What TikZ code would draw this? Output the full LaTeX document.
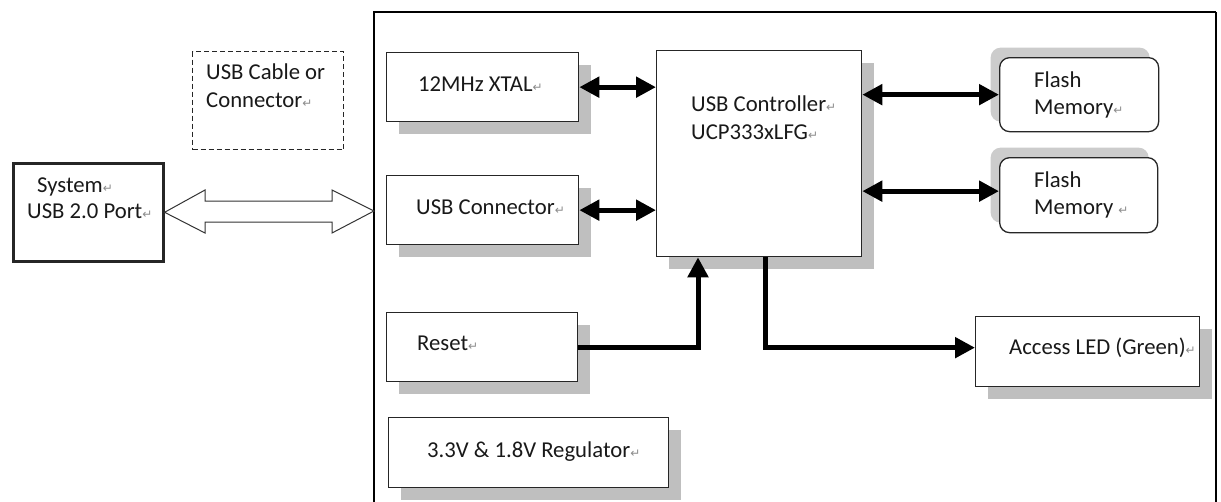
\documentclass[tikz,border=0pt]{standalone}
\usepackage{fontspec}
\setmainfont{Carlito}
\newfontfamily\djv{DejaVu Sans}
\usetikzlibrary{arrows.meta,shadows,calc}
\newcommand\pmk{{\color[HTML]{8C8C8C}\djv\fontsize{12}{12}\selectfont ↵}}
\begin{document}
\begin{tikzpicture}[x=1pt,y=-1pt,
  blk/.style={draw=black!85, line width=1.3pt, fill=white, inner sep=0pt, anchor=north west},
  shd/.style={general shadow={fill=gray!50, shadow xshift=12pt, shadow yshift=-12pt}},
  fsh/.style={general shadow={fill=gray!40, shadow xshift=-9pt, shadow yshift=10pt}},
  fbox/.style={blk, rounded corners=10pt, fsh},
  txt/.style={anchor=base west, inner sep=0pt, text=black!90, font=\fontsize{22.7}{26}\selectfont},
  bus/.style={line width=5pt, {Triangle[length=20pt,width=20pt]}-{Triangle[length=20pt,width=20pt]}},
  sig/.style={line width=5pt, -{Triangle[length=20pt,width=20pt]}},
  hollow/.style={draw=black!80, line width=1pt, fill=white, line join=miter}]
\useasboundingbox (0,0) rectangle (1221,501);
\fill[white] (0,0) rectangle (1221,501);

% board frame
\draw[line width=2.6pt] (374,520) -- (374,12) -- (1216,12);
\draw[line width=1.6pt] (1216,12) -- (1216,520);

% blocks
\node[blk, line width=2.6pt, minimum width=150pt, minimum height=98pt] (sys) at (12,162) {};
\node[draw=black!85, dashed, dash pattern=on 5pt off 3pt, line width=1.2pt, inner sep=0pt,
      anchor=north west, minimum width=151pt, minimum height=98pt] (cable) at (192,51) {};
\node[blk, shd, minimum width=192pt, minimum height=69pt] (xtal) at (386,52) {};
\node[blk, shd, minimum width=192pt, minimum height=69pt] (usbc) at (386,175) {};
\node[blk, shd, minimum width=205pt, minimum height=206pt] (ctrl) at (656,50) {};
\node[blk, shd, minimum width=191pt, minimum height=69pt] (reset) at (386,312) {};
\node[blk, shd, minimum width=280pt, minimum height=70pt] (reg) at (388,417) {};
\node[blk, shd, minimum width=224pt, minimum height=70pt] (led) at (975,316) {};
\node[fbox, minimum width=159pt, minimum height=74pt] (f1) at (999,57) {};
\node[fbox, minimum width=158pt, minimum height=75pt] (f2) at (999,157) {};

% hollow double arrow
\coordinate (portin) at (374,211);
\draw[hollow] (sys.east) -- (205,190) -- (205,201) -- (332,201) -- (332,190) -- (portin)
  -- (332,233) -- (332,222) -- (205,222) -- (205,233) -- cycle;

% connectors
\draw[bus] (xtal.east) -- (xtal.east -| ctrl.west);
\draw[bus] (usbc.east) -- (usbc.east -| ctrl.west);
\draw[bus] (f1.west -| ctrl.east) -- (f1.west);
\draw[bus] ($(f2.west -| ctrl.east)+(0,-4)$) -- ($(f2.west)+(0,-4)$);
\draw[sig] (reset.east) -| ($(ctrl.south west)+(42,0)$);
\draw[sig] ($(ctrl.south west)+(109,0)$) |- ($(led.west)+(0,-4)$);

% texts
\node[txt] (t1) at (37,192) {System\pmk};
\node[txt] (t2) at (27,218) {USB 2.0 Port\pmk};
\node[txt] (t3) at (206,79) {USB Cable or};
\node[txt] (t4) at (206,107) {Connector\pmk};
\node[txt] (t5) at (418,91) {12MHz XTAL\pmk};
\node[txt] (t6) at (416,214) {USB Connector\pmk};
\node[txt] (t7) at (691,111) {USB Controller\pmk};
\node[txt] (t8) at (691,139) {UCP333xLFG\pmk};
\node[txt] (t9) at (1034,87) {Flash};
\node[txt] (t10) at (1034,114) {Memory\pmk};
\node[txt] (t11) at (1034,187) {Flash};
\node[txt] (t12) at (1034,214) {Memory \pmk};
\node[txt] (t13) at (417,350) {Reset\pmk};
\node[txt] (t14) at (427,457) {3.3V \& 1.8V Regulator\pmk};
\node[txt] (t15) at (1009,354) {Access LED (Green)\pmk};
\end{tikzpicture}
\end{document}
